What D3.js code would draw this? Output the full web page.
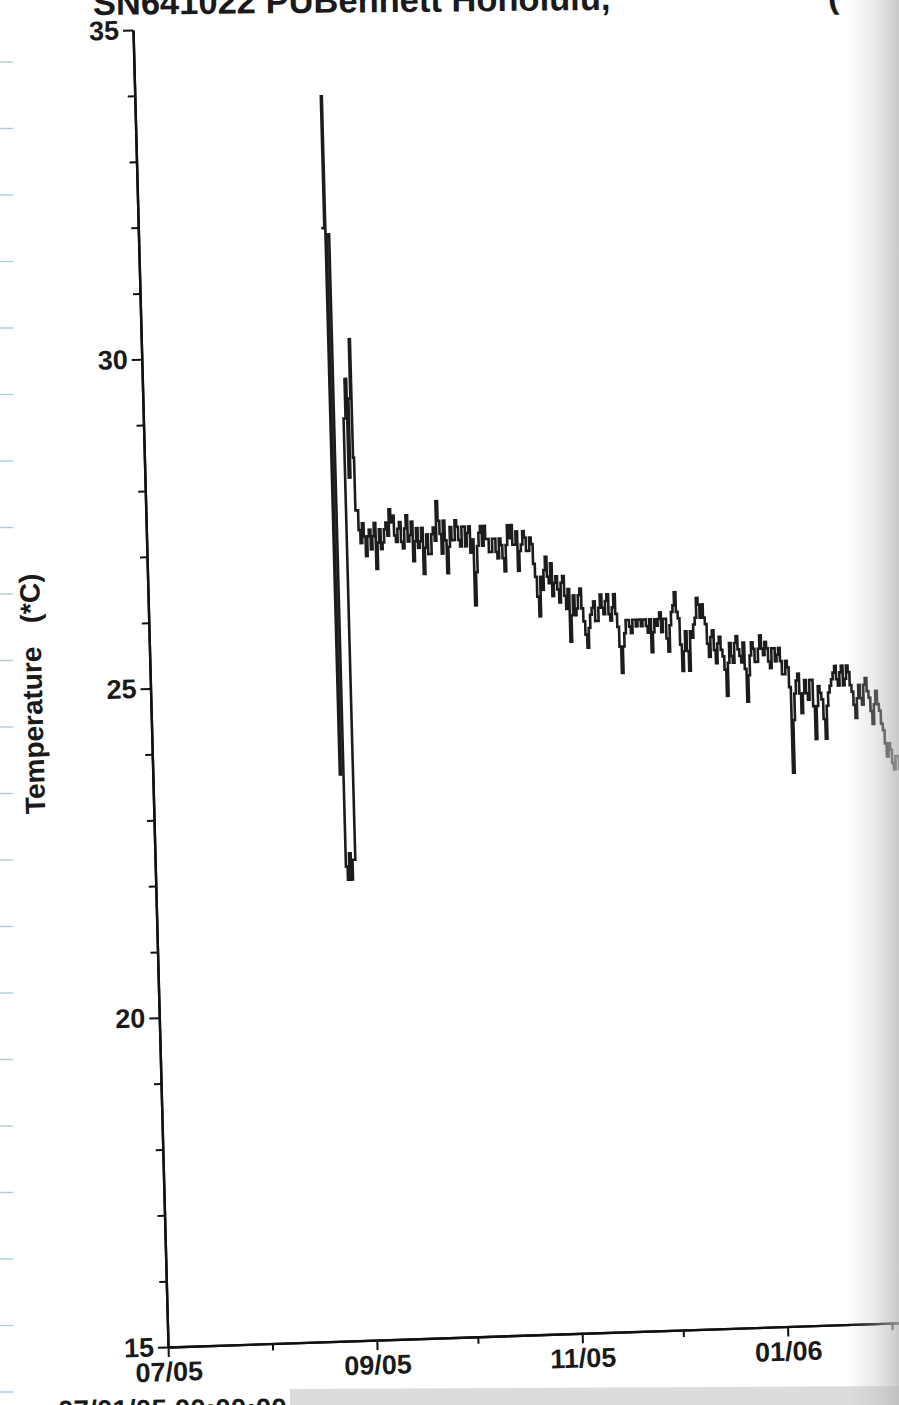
<!DOCTYPE html>
<html><head><meta charset="utf-8">
<script src="https://cdn.jsdelivr.net/npm/d3@7"></script>
<style>
html,body{margin:0;padding:0;background:#fff;}
svg{display:block;}
text{font-family:"Liberation Sans",Arial,Helvetica,sans-serif;font-weight:bold;fill:#1a1a1a;}
</style></head><body>
<svg id="chart" width="899" height="1405"></svg>
<script>
// ---------------- DATA ----------------
const titleText = "SN641022 PUBennett Honolulu,";
const titleTail = "(";
const startStamp = "07/01/05 00:00:00";
const yLabel = "Temperature   (*C)";
const yMajorTicks = [15, 20, 25, 30, 35];
const yMinorTicks = [16,17,18,19,21,22,23,24,26,27,28,29,31,32,33,34];
const xMajorTicks = ["2005-07-01","2005-09-01","2005-11-01","2006-01-01","2006-03-01"];
const xMinorTicks = ["2005-08-01","2005-10-01","2005-12-01","2006-02-01"];
const xTickLabels = ["07/05","09/05","11/05","01/06","03/06"];

// deployment transient (irregular readings)
const deployTimes = ["2005-08-24 07:00","2005-08-25 05:00","2005-08-25 12:00","2005-08-25 19:00",
  "2005-08-26 14:00","2005-08-27 02:00","2005-08-27 14:00","2005-08-28 02:00","2005-08-28 14:00",
  "2005-08-29 10:00","2005-08-30 00:00","2005-08-30 12:00","2005-08-31 00:00","2005-08-31 14:00",
  "2005-08-31 22:00","2005-09-01 05:00"];
const deployTemps = [31.9,33.9,23.6,31.8,22.2,22.0,22.4,22.0,22.3,29.0,29.6,28.1,29.3,30.2,28.4,27.6];

// twice-daily readings (00:00 and 12:00) from 2005-09-02 onward
const dailyStart = "2005-09-02";
const temps00h = [
 27.3,27.4,26.9,27.3,27.2,26.7,27.3,27.1,27.4,27.6,27.5,27.1,27.4,27.0,27.5,27.2,26.8,27.3,27.1,26.6,
 27.2,26.9,27.3,27.7,27.2,27.4,26.6,27.3,27.1,27.3,27.0,27.3,27.2,26.9,26.1,27.0,27.3,27.3,27.1,26.9,
 27.1,26.8,27.0,26.6,27.3,27.3,27.0,26.6,27.0,27.1,26.9,27.0,26.5,25.9,26.3,26.8,26.4,26.2,26.5,26.1,
 26.5,26.0,25.5,26.2,26.0,26.3,25.8,25.4,25.9,26.1,25.8,26.2,25.9,26.2,25.8,26.2,25.7,25.0,25.6,25.8,
 25.6,25.8,25.8,25.7,25.8,25.6,25.3,25.8,25.8,25.6,25.8,25.3,25.9,26.2,25.8,25.0,25.6,25.0,25.5,25.8,
 26.0,26.0,25.7,25.2,25.6,25.1,25.5,25.2,24.6,25.4,25.1,25.5,25.2,25.4,24.5,25.2,25.3,25.1,25.5,25.2,
 25.3,25.0,25.3,25.2,25.1,24.9,25.0,23.4,24.6,24.9,24.3,24.8,24.5,24.8,23.9,24.7,24.5,23.9,24.6,24.8,
 25.0,24.7,25.0,24.8,24.9,24.6,24.2,24.7,24.4,24.8,24.5,24.1,24.6,24.3,24.0,23.6,23.7,23.4,23.6,23.5];
const temps12h = [
 27.1,27.2,27.2,27.0,27.4,27.1,27.0,27.3,27.2,27.4,27.2,27.3,27.1,27.3,27.1,27.4,27.1,27.0,27.3,27.0,
 26.9,27.2,27.1,27.4,26.9,27.1,27.0,27.1,27.4,27.1,27.3,27.0,27.3,27.1,26.6,27.2,27.0,27.1,26.9,27.1,
 26.9,27.1,26.8,27.0,27.1,27.0,27.2,26.9,27.2,26.9,27.1,26.7,26.2,26.5,26.6,26.5,26.7,26.4,26.3,26.4,
 26.2,26.3,25.9,25.9,26.2,26.0,25.6,25.7,26.0,25.8,26.0,26.0,26.1,25.9,26.0,25.9,25.4,25.4,25.8,25.7,
 25.8,25.7,25.8,25.8,25.7,25.8,25.6,25.7,25.9,25.8,25.5,25.7,26.0,25.9,25.4,25.3,25.3,25.6,25.7,26.1,
 25.8,25.8,25.4,25.5,25.3,25.4,25.3,25.0,25.1,25.2,25.4,25.3,25.1,25.0,24.9,25.4,25.1,25.3,25.3,25.4,
 25.1,25.3,25.1,25.3,24.9,25.1,24.7,24.2,24.8,24.6,24.6,24.6,24.8,24.4,24.4,24.6,24.2,24.4,24.7,24.9,
 24.8,24.9,24.7,25.0,24.7,24.4,24.5,24.5,24.7,24.6,24.3,24.4,24.4,24.1,23.8,23.8,23.5,23.6,23.4,23.6];

// ---------------- BUILD ----------------
const parseHM = d3.timeParse("%Y-%m-%d %H:%M");
const parseD = d3.timeParse("%Y-%m-%d");
const series = deployTimes.map((t,i)=>({t:parseHM(t), v:deployTemps[i]}));
temps00h.forEach((v,i)=>{
  const day = d3.timeDay.offset(parseD(dailyStart), i);
  series.push({t:day, v});
  series.push({t:d3.timeHour.offset(day, 12), v:temps12h[i]});
});

const svg = d3.select("#chart");

// paper decorations
const paper = svg.append("g");
paper.append("polygon").attr("points","290,1389 899,1386 899,1405 290,1405").attr("fill","#dcdcdc");
paper.selectAll("line.pl").data(d3.range(21)).join("line")
  .attr("x1",0).attr("x2",13).attr("y1",i=>62+66.5*i).attr("y2",i=>62+66.5*i)
  .attr("stroke","#a9cde0").attr("stroke-width",1.4);

// chart group (scan is slightly skewed)
const plotH = 1317, pxPerDay = 3.367;
const g = svg.append("g").attr("transform","matrix(1,-0.033,0.0266,1,133,30)");

const x = d3.scaleTime().domain([parseD("2005-07-01"), parseD("2006-03-01")]).range([0, 243*pxPerDay]);
const y = d3.scaleLinear().domain([15,35]).range([plotH,0]);

function styleAxis(sel){
  sel.selectAll(".domain").attr("stroke","#111").attr("stroke-width",2.4);
  sel.selectAll(".tick line").attr("stroke","#111").attr("stroke-width",2);
  sel.selectAll("text").attr("font-size",27).attr("fill","#1a1a1a")
     .attr("font-family","'Liberation Sans',Arial,sans-serif").attr("font-weight","bold");
}

g.append("g").call(d3.axisLeft(y).tickValues(yMinorTicks).tickSize(7).tickFormat("").tickSizeOuter(0)).call(styleAxis);
g.append("g").call(d3.axisLeft(y).tickValues(yMajorTicks).tickSize(10).tickPadding(4).tickFormat(d3.format("d")).tickSizeOuter(0)).call(styleAxis);

const xb = g.append("g").attr("transform",`translate(0,${plotH})`);
xb.append("g").call(d3.axisBottom(x).tickValues(xMinorTicks.map(parseD)).tickSize(7).tickFormat("").tickSizeOuter(0)).call(styleAxis);
xb.append("g").call(d3.axisBottom(x).tickValues(xMajorTicks.map(parseD)).tickSize(10).tickPadding(5)
   .tickFormat((d,i)=>xTickLabels[i]).tickSizeOuter(0)).call(styleAxis);

// y label
g.append("text").attr("transform","translate(-118,660) rotate(-90)")
  .attr("text-anchor","middle").attr("dominant-baseline","central")
  .attr("font-size",28).style("white-space","pre").text(yLabel);

// data line
g.append("path").datum(series)
  .attr("fill","none").attr("stroke","#1c1c1c").attr("stroke-width",2.6).attr("stroke-linejoin","miter")
  .attr("d", d3.line().x(d=>x(d.t)).y(d=>y(d.v)).curve(d3.curveStepAfter));

// title & start stamp (slightly rotated)
const tg = svg.append("g").attr("transform","rotate(-0.57,95,15)");
tg.append("text").attr("x",93).attr("y",15).attr("font-size",34.5).text(titleText);
tg.append("text").attr("x",828).attr("y",15).attr("font-size",34.5).text(titleTail);
svg.append("text").attr("transform","rotate(-0.57,58,1420)").attr("x",58).attr("y",1420)
  .attr("font-size",28).text(startStamp);

// scan shadow at right edge
const defs = svg.append("defs");
const grad = defs.append("linearGradient").attr("id","shade").attr("x1","0").attr("x2","1").attr("y1","0").attr("y2","0");
grad.append("stop").attr("offset","0%").attr("stop-color","#bdbdbd").attr("stop-opacity",0);
grad.append("stop").attr("offset","55%").attr("stop-color","#bdbdbd").attr("stop-opacity",0.35);
grad.append("stop").attr("offset","100%").attr("stop-color","#b8b8b8").attr("stop-opacity",0.75);
svg.append("rect").attr("x",848).attr("y",0).attr("width",51).attr("height",1405).attr("fill","url(#shade)");
</script>
</body></html>
